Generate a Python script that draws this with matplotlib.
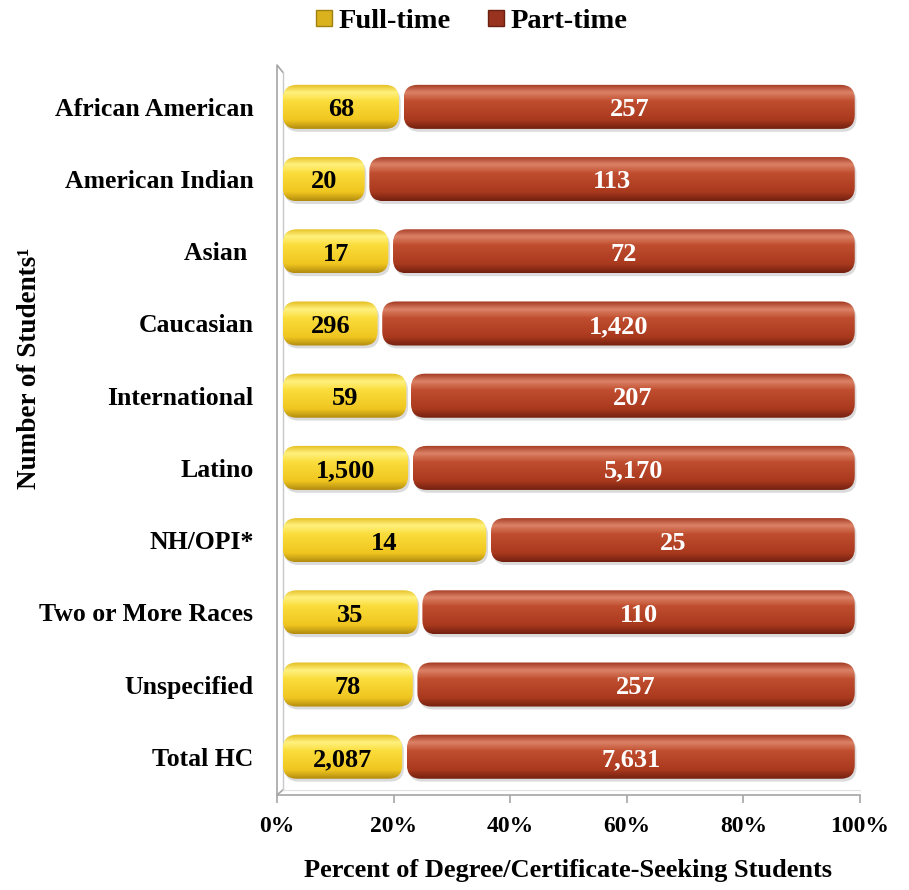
import numpy as np
import matplotlib
matplotlib.use('Agg')
import matplotlib.pyplot as plt
from matplotlib.patches import FancyBboxPatch
from matplotlib.colors import LinearSegmentedColormap
from matplotlib.lines import Line2D

categories = ['African American', 'American Indian', 'Asian ', 'Caucasian', 'International',
              'Latino', 'NH/OPI*', 'Two or More Races', 'Unspecified', 'Total HC']
full_time = [68, 20, 17, 296, 59, 1500, 14, 35, 78, 2087]
part_time = [257, 113, 72, 1420, 207, 5170, 25, 110, 257, 7631]

plt.rcParams['font.family'] = ['Liberation Serif', 'DejaVu Serif']
plt.rcParams['font.weight'] = 'bold'

yellow_cmap = LinearSegmentedColormap.from_list('yel', [
    (0.0, '#E4BC1E'), (0.18, '#FFF27E'), (0.38, '#FADC3A'),
    (0.8, '#F0C620'), (1.0, '#B48C0E')])
red_cmap = LinearSegmentedColormap.from_list('red', [
    (0.0, '#A23820'), (0.18, '#DB8266'), (0.38, '#C04D2F'),
    (0.8, '#A9391D'), (1.0, '#732010')])


def rounded_bar(ax, x0, x1, y, h, cmap, aspect):
	# shadow
	sh = FancyBboxPatch((x0 + 0.3, y - h / 2 + 0.04), x1 - x0, h,
	                    boxstyle='round,pad=0,rounding_size=2.4',
	                    mutation_aspect=aspect, fc='#9a9a9a', ec='none', alpha=0.35, zorder=2)
	ax.add_patch(sh)
	p = FancyBboxPatch((x0, y - h / 2), x1 - x0, h,
	                   boxstyle='round,pad=0,rounding_size=2.4',
	                   mutation_aspect=aspect, fc='none', ec='none', zorder=3)
	ax.add_patch(p)
	grad = np.linspace(0, 1, 100).reshape(-1, 1)
	im = ax.imshow(grad, cmap=cmap, aspect='auto', origin='upper',
	               extent=(x0, x1, y + h / 2, y - h / 2), zorder=3, interpolation='bilinear')
	im.set_clip_path(p)


def main():
	fig = plt.figure(figsize=(9.09, 8.9), dpi=100)
	ax = fig.add_axes([277 / 909, 95 / 890, 583 / 909, 730 / 890])

	ymin, ymax = 9.53, -0.58
	# y data units per px / x data units per px
	aspect = ((ymin - ymax) / 730) / (100 / 583)
	h = 0.61

	for i, (f, p) in enumerate(zip(full_time, part_time)):
		tot = f + p
		fp = f / tot * 100
		rounded_bar(ax, 1.0, fp, i, h, yellow_cmap, aspect)
		rounded_bar(ax, fp + 0.8, 99.1, i, h, red_cmap, aspect)
		ax.text((1.0 + fp) / 2, i + 0.13, f'{f:,}', ha='center', va='baseline',
		        fontsize=19, fontweight='bold', color='black', zorder=5)
		ax.text((fp + 0.8 + 99.1) / 2, i + 0.13, f'{p:,}', ha='center', va='baseline',
		        fontsize=19, fontweight='bold', color='white', zorder=5)

	ax.set_xlim(0, 100)
	ax.set_ylim(ymin, ymax)

	# 3D wall
	wall = '#a6a6a6'
	ax.plot([1.0, 0, 0, 1.0], [-0.48, -0.58, 9.53, 9.46], color=wall, lw=1.2,
	        clip_on=False, zorder=1)
	ax.plot([1.0, 1.0], [-0.48, 9.46], color='#c8c8c8', lw=1.0, clip_on=False, zorder=1)
	ax.plot([1.0, 100], [9.46, 9.46], color='#e0e0e0', lw=0.8, clip_on=False, zorder=1)

	for s in ['top', 'right', 'left']:
		ax.spines[s].set_visible(False)
	ax.spines['bottom'].set_color(wall)
	ax.spines['bottom'].set_linewidth(1.2)

	ax.set_xticks([0, 20, 40, 60, 80, 100])
	ax.set_xticklabels(['0%', '20%', '40%', '60%', '80%', '100%'], fontsize=17, fontweight='bold')
	ax.tick_params(axis='x', colors=wall, labelcolor='black', length=6, width=1.2, pad=9)
	ax.set_yticks(range(len(categories)))
	ax.set_yticklabels(categories, fontsize=18.5, fontweight='bold')
	ax.tick_params(axis='y', length=0, pad=17)

	ax.set_xlabel('Percent of Degree/Certificate-Seeking Students', fontsize=19,
	              fontweight='bold', labelpad=16)
	fig.text(30 / 909, 1 - 368 / 890, 'Number of Students\u00b9', rotation=90,
	         ha='center', va='center', fontsize=19.5, fontweight='bold')

	handles = [Line2D([], [], marker='s', ls='none', markersize=11, markerfacecolor='#D9B21E',
	                  markeredgecolor='#a08010'),
	           Line2D([], [], marker='s', ls='none', markersize=11, markerfacecolor='#9A3220',
	                  markeredgecolor='#6a2010')]
	fig.legend(handles, ['Full-time', 'Part-time'], loc='center', bbox_to_anchor=(470 / 909, 1 - 21 / 890),
	           ncol=2, frameon=False, prop={'size': 20.5, 'weight': 'bold'},
	           handletextpad=0.1, columnspacing=1.2, handlelength=0.8)

	fig.savefig('out.png', dpi=100)


if __name__ == '__main__':
	main()
